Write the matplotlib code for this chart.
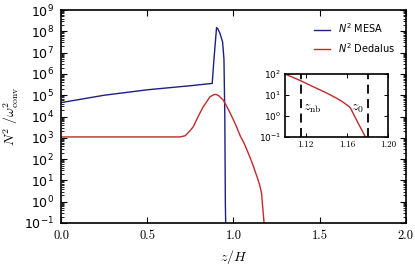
import numpy as np
import matplotlib
matplotlib.use("Agg")
import matplotlib.pyplot as plt
from matplotlib.ticker import LogLocator, NullFormatter, FixedLocator

# MESA N^2 profile
mesa_z = [0.0, 0.25, 0.5, 0.75, 0.877, 0.885, 0.895, 0.902, 0.91, 0.922, 0.937, 0.945, 0.950, 0.953, 0.957]
mesa_N2 = [4.5e4, 1.0e5, 1.8e5, 2.8e5, 3.6e5, 3e6, 3e7, 1.5e8, 1.3e8, 8e7, 3.2e7, 5e6, 1e4, 1.0, 1e-2]

# Dedalus N^2 profile
ded_z = [0.0, 0.3, 0.6, 0.69, 0.72, 0.745, 0.767, 0.80, 0.825, 0.845, 0.864, 0.885, 0.899, 0.915,
         0.941, 0.97, 1.00, 1.018, 1.04, 1.06, 1.08, 1.10, 1.115, 1.127, 1.14, 1.15, 1.157,
         1.163, 1.170, 1.1776, 1.185]
ded_N2 = [1.1e3, 1.1e3, 1.1e3, 1.1e3, 1.25e3, 2.0e3, 3.3e3, 1.2e4, 2.9e4, 5.0e4, 8.5e4, 1.05e5, 1.1e5, 9.5e4,
          5.9e4, 2.2e4, 7e3, 3.3e3, 1.2e3, 600, 250, 100, 48, 25, 12.5, 6.9, 4.2,
          2.5, 0.52, 0.1, 0.02]

z_nb = 1.115
z_0 = 1.18

xticks_main = [0.0, 0.5, 1.0, 1.5, 2.0]
xticks_inset = [1.12, 1.16, 1.20]

blue = "#1c1f85"
red = "#c4282b"

fig = plt.figure(figsize=(4.15, 2.65), dpi=100)
ax = fig.add_axes([0.147, 0.1585, 0.831, 0.8035])

ax.plot(mesa_z, mesa_N2, color=blue, lw=1.0, label=r"$N^2$ MESA")
ax.plot(ded_z, ded_N2, color=red, lw=1.0, label=r"$N^2$ Dedalus")
ax.set_yscale("log")
ax.set_xlim(0, 2)
ax.set_ylim(1e-1, 1e9)
ax.set_xticks(xticks_main)
ax.set_xticklabels(["%.1f" % v for v in xticks_main], fontfamily="cmr10", fontsize=9)
ax.yaxis.set_major_locator(LogLocator(base=10, numticks=20))
ax.yaxis.set_minor_locator(LogLocator(base=10, subs=np.arange(2, 10), numticks=20))
ax.yaxis.set_minor_formatter(NullFormatter())
ax.tick_params(axis="both", which="major", direction="in", length=4, width=0.8,
               top=True, right=True, labelsize=9, pad=5)
ax.tick_params(axis="y", which="minor", direction="in", length=2, width=0.6, right=True)
for s in ax.spines.values():
    s.set_linewidth(1.2)
ax.set_xlabel(r"$z/H$", math_fontfamily="cm", fontsize=10, labelpad=4)
ax.set_ylabel(r"$N^2\ /\omega^2_{\rm conv}$", math_fontfamily="cm", fontsize=10, labelpad=2)
leg = ax.legend(loc="upper right", frameon=False, fontsize=7, handlelength=1.6,
                borderaxespad=0.75, labelspacing=0.6)

ins = fig.add_axes([0.687, 0.484, 0.249, 0.2366])
ins.plot(ded_z, ded_N2, color=red, lw=1.0)
ins.axvline(z_nb, color="black", ls=(0, (5, 3)), lw=1.3)
ins.axvline(z_0, color="black", ls=(0, (5, 3)), lw=1.3)
ins.set_yscale("log")
ins.set_xlim(1.10, 1.20)
ins.set_ylim(1e-1, 1e2)
ins.xaxis.set_major_locator(FixedLocator(xticks_inset))
ins.set_xticklabels(["%.2f" % v for v in xticks_inset], fontfamily="cmr10", fontsize=6.5)
ins.yaxis.set_minor_formatter(NullFormatter())
ins.tick_params(axis="both", which="major", direction="in", length=3, width=0.7,
                top=True, right=True, labelsize=6.5, pad=3)
ins.tick_params(axis="y", which="minor", length=0)
for s in ins.spines.values():
    s.set_linewidth(1.2)
ins.text(1.117, 2.5, r"$z_{\rm nb}$", math_fontfamily="cm", fontsize=10, ha="left", va="center")
ins.text(1.164, 2.5, r"$z_0$", math_fontfamily="cm", fontsize=10, ha="left", va="center")

fig.savefig("out.png", dpi=100)
